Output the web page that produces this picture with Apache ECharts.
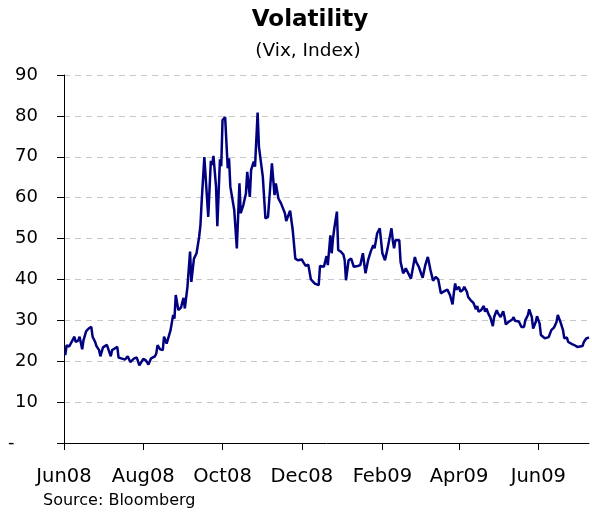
<!DOCTYPE html>
<html>
<head>
<meta charset="utf-8">
<script src="https://cdn.jsdelivr.net/npm/echarts@6/dist/echarts.min.js"></script>
<style>
html,body{margin:0;padding:0;background:#fff;}
#chart{width:592px;height:513px;}
</style>
</head>
<body>
<div id="chart"></div>
<script>
var dates = [
'2008-06-02','2008-06-03','2008-06-05','2008-06-06','2008-06-09','2008-06-10','2008-06-12','2008-06-13','2008-06-15','2008-06-16',
'2008-06-18','2008-06-20','2008-06-22','2008-06-23','2008-06-25','2008-06-26','2008-06-28','2008-06-29','2008-07-01','2008-07-04',
'2008-07-05','2008-07-07','2008-07-08','2008-07-10','2008-07-12','2008-07-13','2008-07-15','2008-07-18','2008-07-20','2008-07-22',
'2008-07-25','2008-07-27','2008-07-29','2008-08-01','2008-08-03','2008-08-05','2008-08-07','2008-08-10','2008-08-11','2008-08-12',
'2008-08-14','2008-08-16','2008-08-17','2008-08-19','2008-08-22','2008-08-24','2008-08-25','2008-08-26','2008-08-28','2008-08-30',
'2008-09-01','2008-09-02','2008-09-04','2008-09-06','2008-09-07','2008-09-09','2008-09-11','2008-09-13','2008-09-14','2008-09-15',
'2008-09-17','2008-09-20','2008-09-21','2008-09-22','2008-09-23','2008-09-24','2008-09-26','2008-09-27','2008-09-28','2008-09-29',
'2008-09-30','2008-10-01','2008-10-03','2008-10-04','2008-10-05','2008-10-06','2008-10-07','2008-10-10','2008-10-12','2008-10-14',
'2008-10-15','2008-10-17','2008-10-19','2008-10-20','2008-10-22','2008-10-23','2008-10-25','2008-10-26','2008-10-28','2008-10-29',
'2008-11-01','2008-11-03','2008-11-05','2008-11-08','2008-11-10','2008-11-11','2008-11-13','2008-11-15','2008-11-16','2008-11-18',
'2008-11-19','2008-11-22','2008-11-24','2008-11-26','2008-11-28','2008-12-01','2008-12-02','2008-12-04','2008-12-06','2008-12-08',
'2008-12-11','2008-12-14','2008-12-15','2008-12-18','2008-12-20','2008-12-21','2008-12-23','2008-12-24','2008-12-25','2008-12-26',
'2008-12-28','2008-12-29','2008-12-31','2009-01-01','2009-01-02','2009-01-03','2009-01-04','2009-01-06','2009-01-08','2009-01-09',
'2009-01-10','2009-01-11','2009-01-13','2009-01-15','2009-01-17','2009-01-19','2009-01-21','2009-01-23','2009-01-25','2009-01-26',
'2009-01-28','2009-01-30','2009-02-01','2009-02-03','2009-02-05','2009-02-08','2009-02-09','2009-02-10','2009-02-11','2009-02-14',
'2009-02-15','2009-02-17','2009-02-19','2009-02-20','2009-02-23','2009-02-26','2009-02-27','2009-03-01','2009-03-04','2009-03-06',
'2009-03-08','2009-03-10','2009-03-12','2009-03-14','2009-03-16','2009-03-18','2009-03-20','2009-03-23','2009-03-25','2009-03-27',
'2009-03-28','2009-03-29','2009-03-30','2009-04-01','2009-04-02','2009-04-04','2009-04-05','2009-04-07','2009-04-08','2009-04-10',
'2009-04-12','2009-04-14','2009-04-15','2009-04-16','2009-04-18','2009-04-20','2009-04-21','2009-04-22','2009-04-24','2009-04-25',
'2009-04-27','2009-04-28','2009-04-30','2009-05-01','2009-05-03','2009-05-05','2009-05-06','2009-05-07','2009-05-09','2009-05-10',
'2009-05-12','2009-05-13','2009-05-14','2009-05-17','2009-05-19','2009-05-21','2009-05-22','2009-05-24','2009-05-25','2009-05-27',
'2009-05-28','2009-05-30','2009-05-31','2009-06-02','2009-06-03','2009-06-06','2009-06-07','2009-06-09','2009-06-11','2009-06-13',
'2009-06-15','2009-06-16','2009-06-18','2009-06-20','2009-06-21','2009-06-23','2009-06-24','2009-06-25','2009-06-27','2009-06-29',
'2009-07-01','2009-07-02','2009-07-05','2009-07-06','2009-07-08','2009-07-10'
];
var vix = [
21.5,23.9,23.6,23.4,26.0,24.7,25.1,26.0,22.9,25.1,
27.3,28.0,28.4,26.0,24.7,23.7,22.7,21.2,23.4,24.0,
24.0,21.2,22.7,23.1,23.5,20.9,20.7,20.4,21.2,19.8,
20.7,20.9,19.0,20.6,20.2,19.2,20.7,21.2,21.9,23.9,
22.9,22.7,26.0,24.3,27.6,31.3,30.4,36.2,32.5,33.1,
35.5,32.9,38.2,46.8,39.4,45.1,46.4,50.4,53.3,59.4,
69.9,55.3,54.9,69.0,68.0,70.2,62.7,53.0,52.9,69.4,
67.7,79.0,79.7,80.0,67.2,69.6,62.7,57.0,47.6,63.5,
56.2,58.2,61.0,66.3,60.2,66.8,68.8,67.6,80.8,72.5,
65.1,54.9,55.3,68.4,60.6,63.5,59.8,58.6,58.6,56.2,
54.3,56.8,52.1,45.1,44.7,44.9,44.3,43.3,43.6,40.0,
39.0,38.6,43.3,43.1,45.7,43.5,50.8,46.4,50.0,52.5,
56.6,47.2,46.8,47.0,46.1,44.7,39.8,44.7,45.1,45.1,
43.1,43.5,43.3,43.5,46.4,41.5,44.7,46.8,48.4,47.6,
51.3,52.5,46.4,44.7,47.6,52.5,49.6,47.6,49.6,49.6,
44.3,41.5,42.7,42.3,40.2,45.5,44.3,43.1,40.4,43.5,
45.5,42.3,39.7,40.6,40.0,36.6,37.0,37.5,36.2,33.9,
36.7,39.0,37.5,38.2,37.0,37.5,38.2,37.0,35.7,34.9,
34.3,32.7,33.5,32.1,32.5,33.5,32.1,32.9,31.3,30.8,
28.6,30.8,32.5,31.7,30.8,32.2,30.8,29.0,29.6,29.8,
30.2,30.8,29.9,29.7,28.4,28.4,30.0,31.3,32.7,30.8,
28.0,29.6,31.0,29.2,26.4,25.6,25.3,25.9,27.6,28.2,
29.6,31.3,29.6,27.6,25.6,25.8,24.7,24.3,24.2,23.9,
23.5,23.1,23.7,24.7,25.6,25.8
];
var tickDates = ['2008-06-01','2008-08-01','2008-10-01','2008-12-01','2009-02-01','2009-04-01','2009-06-01'];
var tickLabels = ['Jun08','Aug08','Oct08','Dec08','Feb09','Apr09','Jun09'];
var yTicks = [0,10,20,30,40,50,60,70,80,90];
var titleText = 'Volatility';
var subtitleText = '(Vix, Index)';
var sourceText = 'Source: Bloomberg';

function ts(s){ var p = s.split('-'); return Date.UTC(+p[0], +p[1]-1, +p[2]); }
var tickTs = tickDates.map(ts);
var seriesData = dates.map(function(d,i){ return [ts(d), vix[i]]; });

var FONT = 'DejaVu Sans';
var chart = echarts.init(document.getElementById('chart'), null, {renderer:'canvas'});
chart.setOption({
  animation: false,
  backgroundColor: '#ffffff',
  grid: {left: 64, right: 3, top: 75, bottom: 70, containLabel: false},
  graphic: [
    {type:'text', x:310, y:9, style:{text:titleText, font:'bold 23px "DejaVu Sans"', fill:'#000', textAlign:'center', textVerticalAlign:'top'}},
    {type:'text', x:308, y:42, style:{text:subtitleText, font:'18.5px "DejaVu Sans"', fill:'#000', textAlign:'center', textVerticalAlign:'top'}},
    {type:'text', x:43, y:493, style:{text:sourceText, font:'16px "DejaVu Sans"', fill:'#000', textAlign:'left', textVerticalAlign:'top'}}
  ],
  xAxis: {
    type: 'value',
    min: ts('2008-06-01'),
    max: ts('2009-07-10'),
    axisLine: {show:true, lineStyle:{color:'#000', width:1}},
    axisTick: {show:true, length:7, inside:false, customValues: tickTs, lineStyle:{color:'#000'}},
    axisLabel: {
      customValues: tickTs,
      margin: 24,
      fontFamily: FONT, fontSize: 19.5, color:'#000',
      formatter: function(v){ var i = tickTs.indexOf(v); return i >= 0 ? tickLabels[i] : ''; }
    },
    splitLine: {show:false}
  },
  yAxis: {
    type: 'value',
    min: yTicks[0], max: yTicks[yTicks.length-1], interval: 10,
    axisLine: {show:true, lineStyle:{color:'#000', width:1}},
    axisTick: {show:true, length:7, inside:false, lineStyle:{color:'#000'}},
    axisLabel: {
      margin: 26, fontFamily: FONT, fontSize: 18, color:'#000',
      formatter: function(v){ return v === 0 ? '{d|-}' : String(v); },
      rich: {d: {width: 30, align:'left', fontFamily: FONT, fontSize: 18, color:'#000'}}
    },
    splitLine: {show:true, lineStyle:{color:'#c8c8c8', type:[6,5], width:1}}
  },
  series: [{
    type: 'line',
    data: seriesData,
    showSymbol: false,
    symbol: 'none',
    lineStyle: {color:'#000080', width:2.5},
    itemStyle: {color:'#000080'}
  }]
});
</script>
</body>
</html>
